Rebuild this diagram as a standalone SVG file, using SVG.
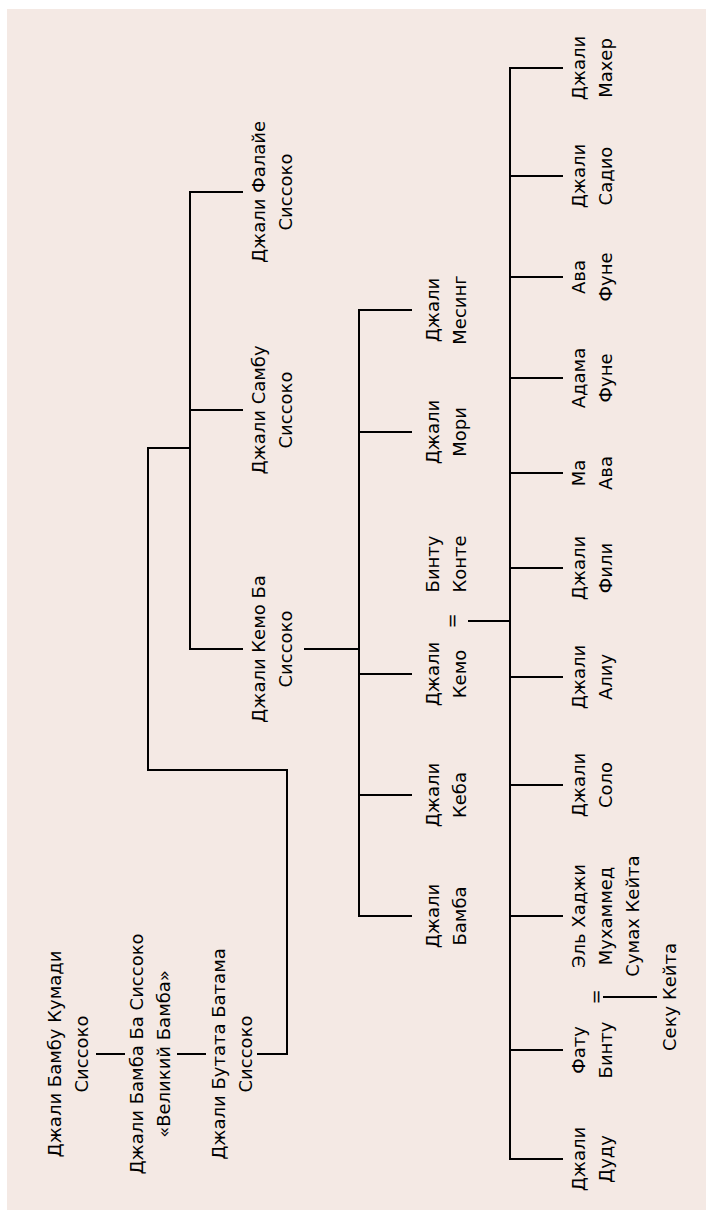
<svg xmlns="http://www.w3.org/2000/svg" width="706" height="1210" viewBox="0 0 706 1210">
<style>
.t{font-family:"DejaVu Sans",sans-serif;font-size:18px;fill:#000;text-anchor:middle}
.c{fill:none;stroke:#000;stroke-width:2}
</style>
<rect x="7" y="9" width="699" height="1201" fill="#f4e9e4"/>
<g id="connectors" class="c">
<path d="M96,1054H125M177,1054H206M257,1054H287V770H148V448H190"/>
<path d="M243,192H190V649H243M190,410H243"/>
<path d="M304,649H359M412,310H359V916H412M359,432H412M359,674H412M359,795H412"/>
<path d="M468,621H510"/>
<path d="M563,68H510V1159H563M510,176H563M510,277H563M510,378H563M510,473H563M510,568H563M510,677H563M510,785H563M510,916H563M510,1050H563"/>
<path d="M603,997H657"/>
</g>
<g id="n_bambu_kumadi"><text class="t" transform="translate(61,1054) rotate(-90)"><tspan x="0" y="0">Джали Бамбу Кумади</tspan><tspan x="0" y="27">Сиссоко</tspan></text></g>
<g id="n_bamba_ba"><text class="t" transform="translate(143,1054) rotate(-90)"><tspan x="0" y="0">Джали Бамба Ба Сиссоко</tspan><tspan x="0" y="27">«Великий Бамба»</tspan></text></g>
<g id="n_butata"><text class="t" transform="translate(225,1054) rotate(-90)"><tspan x="0" y="0">Джали Бутата Батама</tspan><tspan x="0" y="27">Сиссоко</tspan></text></g>
<g id="n_falaye"><text class="t" transform="translate(265,192) rotate(-90)"><tspan x="0" y="0">Джали Фалайе</tspan><tspan x="0" y="27">Сиссоко</tspan></text></g>
<g id="n_sambu"><text class="t" transform="translate(265,410) rotate(-90)"><tspan x="0" y="0">Джали Самбу</tspan><tspan x="0" y="27">Сиссоко</tspan></text></g>
<g id="n_kemo_ba"><text class="t" transform="translate(265,649) rotate(-90)"><tspan x="0" y="0">Джали Кемо Ба</tspan><tspan x="0" y="27">Сиссоко</tspan></text></g>
<g id="n_mesing"><text class="t" transform="translate(439,310) rotate(-90)"><tspan x="0" y="0">Джали</tspan><tspan x="0" y="27">Месинг</tspan></text></g>
<g id="n_mori"><text class="t" transform="translate(439,432) rotate(-90)"><tspan x="0" y="0">Джали</tspan><tspan x="0" y="27">Мори</tspan></text></g>
<g id="n_bintu_konte"><text class="t" transform="translate(439,564) rotate(-90)"><tspan x="0" y="0">Бинту</tspan><tspan x="0" y="27">Конте</tspan></text></g>
<g id="m_kemo"><text class="t" transform="translate(458,621) rotate(-90)">=</text></g>
<g id="n_kemo"><text class="t" transform="translate(439,674) rotate(-90)"><tspan x="0" y="0">Джали</tspan><tspan x="0" y="27">Кемо</tspan></text></g>
<g id="n_keba"><text class="t" transform="translate(439,795) rotate(-90)"><tspan x="0" y="0">Джали</tspan><tspan x="0" y="27">Кеба</tspan></text></g>
<g id="n_bamba"><text class="t" transform="translate(439,916) rotate(-90)"><tspan x="0" y="0">Джали</tspan><tspan x="0" y="27">Бамба</tspan></text></g>
<g id="n_maher"><text class="t" transform="translate(585,68) rotate(-90)"><tspan x="0" y="0">Джали</tspan><tspan x="0" y="27">Махер</tspan></text></g>
<g id="n_sadio"><text class="t" transform="translate(585,176) rotate(-90)"><tspan x="0" y="0">Джали</tspan><tspan x="0" y="27">Садио</tspan></text></g>
<g id="n_ava_fune"><text class="t" transform="translate(585,277) rotate(-90)"><tspan x="0" y="0">Ава</tspan><tspan x="0" y="27">Фуне</tspan></text></g>
<g id="n_adama_fune"><text class="t" transform="translate(585,378) rotate(-90)"><tspan x="0" y="0">Адама</tspan><tspan x="0" y="27">Фуне</tspan></text></g>
<g id="n_ma_ava"><text class="t" transform="translate(585,473) rotate(-90)"><tspan x="0" y="0">Ма</tspan><tspan x="0" y="27">Ава</tspan></text></g>
<g id="n_fili"><text class="t" transform="translate(585,568) rotate(-90)"><tspan x="0" y="0">Джали</tspan><tspan x="0" y="27">Фили</tspan></text></g>
<g id="n_aliu"><text class="t" transform="translate(585,677) rotate(-90)"><tspan x="0" y="0">Джали</tspan><tspan x="0" y="27">Алиу</tspan></text></g>
<g id="n_solo"><text class="t" transform="translate(585,785) rotate(-90)"><tspan x="0" y="0">Джали</tspan><tspan x="0" y="27">Соло</tspan></text></g>
<g id="n_el_hadji"><text class="t" transform="translate(585,916) rotate(-90)"><tspan x="0" y="0">Эль Хаджи</tspan><tspan x="0" y="27">Мухаммед</tspan><tspan x="0" y="54">Сумах Кейта</tspan></text></g>
<g id="m_fatu"><text class="t" transform="translate(602,997) rotate(-90)">=</text></g>
<g id="n_fatu_bintu"><text class="t" transform="translate(585,1050) rotate(-90)"><tspan x="0" y="0">Фату</tspan><tspan x="0" y="27">Бинту</tspan></text></g>
<g id="n_seku_keita"><text class="t" transform="translate(676,997) rotate(-90)">Секу Кейта</text></g>
<g id="n_dudu"><text class="t" transform="translate(585,1159) rotate(-90)"><tspan x="0" y="0">Джали</tspan><tspan x="0" y="27">Дуду</tspan></text></g>
</svg>
